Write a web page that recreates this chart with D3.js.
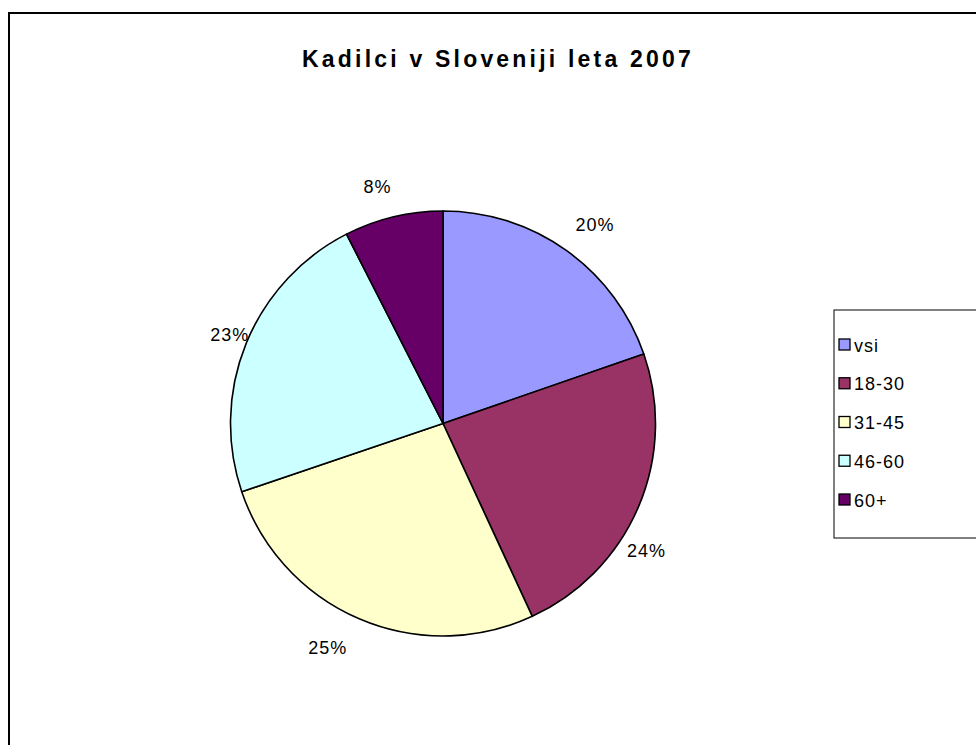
<!DOCTYPE html>
<html>
<head>
<meta charset="utf-8">
<script src="https://cdn.jsdelivr.net/npm/d3@7/dist/d3.min.js"></script>
<style>
  html, body { margin: 0; padding: 0; background: #fff; }
  svg { display: block; }
</style>
</head>
<body>
<svg id="chart" width="976" height="745"></svg>
<script>
const title = "Kadilci v Sloveniji leta 2007";
const categories = ["vsi", "18-30", "31-45", "46-60", "60+"];
const values = [19.7, 23.4, 26.7, 22.7, 7.5];
const labels = ["20%", "24%", "25%", "23%", "8%"];
const colors = ["#9999FF", "#993366", "#FFFFCC", "#CCFFFF", "#660066"];

const svg = d3.select("#chart");

// chart area border
svg.append("rect")
  .attr("x", 9).attr("y", 13)
  .attr("width", 1000).attr("height", 800)
  .attr("fill", "#fff").attr("stroke", "#000").attr("stroke-width", 2);

svg.append("text")
  .attr("x", 498).attr("y", 67)
  .attr("text-anchor", "middle")
  .attr("font-family", "Liberation Sans, Arial, sans-serif")
  .attr("font-weight", "bold")
  .attr("font-size", 23)
  .attr("letter-spacing", 3.2)
  .text(title);

const cx = 443, cy = 423.5, r = 212.5;
const data = categories.map((c, i) => ({ cat: c, value: values[i], label: labels[i], color: colors[i] }));
const pie = d3.pie().sort(null).value(d => d.value);
const arcs = pie(data);
const arc = d3.arc().innerRadius(0).outerRadius(r);

const g = svg.append("g").attr("transform", `translate(${cx},${cy})`);
g.selectAll("path").data(arcs).join("path")
  .attr("d", arc)
  .attr("fill", d => d.data.color)
  .attr("stroke", "#000")
  .attr("stroke-width", 1.6)
  .attr("stroke-linejoin", "round");

// label placement (Excel-like): small angular nudge and distance from centre
const labelNudgeDeg = [2, 9, 4, 0.5, -2];
const labelDist = [250, 240, 252, 231, 245];
g.selectAll("text.lbl").data(arcs).join("text")
  .attr("class", "lbl")
  .attr("x", (d, i) => { const a = (d.startAngle + d.endAngle) / 2 + labelNudgeDeg[i] * Math.PI / 180; return labelDist[i] * Math.sin(a); })
  .attr("y", (d, i) => { const a = (d.startAngle + d.endAngle) / 2 + labelNudgeDeg[i] * Math.PI / 180; return -labelDist[i] * Math.cos(a) + 6; })
  .attr("text-anchor", "middle")
  .attr("font-family", "Liberation Sans, Arial, sans-serif")
  .attr("font-size", 18)
  .attr("letter-spacing", 1)
  .attr("fill", "#000")
  .text(d => d.data.label);

// legend
const lg = svg.append("g").attr("transform", "translate(834,310)");
lg.append("rect").attr("x", 0).attr("y", 0).attr("width", 200).attr("height", 228)
  .attr("fill", "#fff").attr("stroke", "#000").attr("stroke-width", 1);
const rowY = d3.scalePoint().domain(categories).range([35, 190]);
const items = lg.selectAll("g.item").data(data).join("g")
  .attr("class", "item")
  .attr("transform", d => `translate(0,${rowY(d.cat)})`);
items.append("rect").attr("x", 5).attr("y", -6).attr("width", 11).attr("height", 11)
  .attr("fill", d => d.color).attr("stroke", "#000").attr("stroke-width", 1.3);
items.append("text").attr("x", 20).attr("y", 6.5)
  .attr("font-family", "Liberation Sans, Arial, sans-serif")
  .attr("font-size", 18)
  .attr("letter-spacing", 1)
  .text(d => d.cat);
</script>
</body>
</html>
